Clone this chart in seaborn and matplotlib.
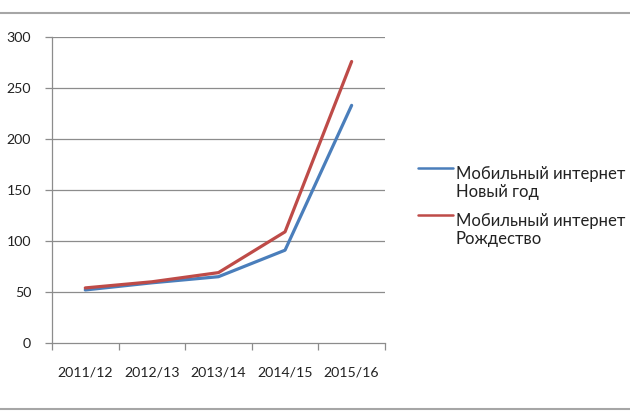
import matplotlib
matplotlib.use("Agg")
import matplotlib.pyplot as plt
from matplotlib.lines import Line2D
from matplotlib.legend_handler import HandlerLine2D
import numpy as np
import seaborn as sns
import pandas as pd

seasons = ["2011/12", "2012/13", "2013/14", "2014/15", "2015/16"]
new_year = [52, 59, 65, 91, 233]
christmas = [54, 60, 69, 109, 276]
series_names = ["Мобильный интернет\nНовый год", "Мобильный интернет\nРождество"]
yticks = [0, 50, 100, 150, 200, 250, 300]

df = pd.DataFrame({
    "season": seasons * 2,
    "value": new_year + christmas,
    "series": [series_names[0]] * len(seasons) + [series_names[1]] * len(seasons),
})

sns.set_style("white")
plt.rcParams["font.family"] = ["Lato", "DejaVu Sans"]

fig = plt.figure(figsize=(6.3, 4.16), dpi=100)
ax = fig.add_axes([0.0825, 0.1755, 0.5285, 0.7355])

palette = {series_names[0]: "#4A7EBB", series_names[1]: "#BE4B48"}
sns.lineplot(data=df, x="season", y="value", hue="series", palette=palette,
             linewidth=2.3, ax=ax, sort=False)

ax.set_xlim(-0.5, len(seasons) - 0.5)
ax.set_ylim(0, 300)
ax.set_yticks(yticks)
ax.set_xlabel("")
ax.set_ylabel("")
for y in yticks[1:]:
    ax.axhline(y, color="#8c8c8c", linewidth=0.9, zorder=0)

for s in ["top", "right"]:
    ax.spines[s].set_visible(False)
for s in ["left", "bottom"]:
    ax.spines[s].set_color("#8c8c8c")
    ax.spines[s].set_linewidth(0.9)

ax.set_xticks([i - 0.5 for i in range(len(seasons) + 1)], minor=True)
ax.tick_params(axis="x", which="minor", length=5, color="#8c8c8c", width=0.9, direction="out")
ax.tick_params(axis="x", which="major", length=0, labelsize=10.2, pad=17, colors="#222222")
ax.tick_params(axis="y", which="major", length=5, color="#8c8c8c", width=0.9, direction="out",
               labelsize=10.2, pad=10, colors="#222222")
ax.yaxis.set_tick_params(left=True)
ax.xaxis.set_tick_params(bottom=True, which="minor")


class FirstLineHandler(HandlerLine2D):
    """Align the legend line with the first line of a two-line label."""
    def create_artists(self, legend, orig_handle, xdescent, ydescent, width, height,
                       fontsize, trans):
        artists = super().create_artists(legend, orig_handle, xdescent, ydescent, width,
                                         height, fontsize, trans)
        for a in artists:
            a.set_ydata(np.asarray(a.get_ydata()) + 0.95 * fontsize)
        return artists


handles, labels = ax.get_legend_handles_labels()
leg = ax.legend(handles, labels, loc="upper left", bbox_to_anchor=(1.075, 0.607),
                frameon=False, fontsize=12, handlelength=2.1, handletextpad=0.15,
                labelspacing=0.75, labelcolor="#222222", borderpad=0,
                handler_map={Line2D: FirstLineHandler()})
for line in leg.get_lines():
    line.set_linewidth(1.8)

fig.add_artist(Line2D([0, 1], [1 - 13 / 416, 1 - 13 / 416], color="#a6a6a6", linewidth=1.5,
                      transform=fig.transFigure))
fig.add_artist(Line2D([0, 1], [1 - 409 / 416, 1 - 409 / 416], color="#a6a6a6", linewidth=1.5,
                      transform=fig.transFigure))

fig.savefig("out.png", dpi=100)
